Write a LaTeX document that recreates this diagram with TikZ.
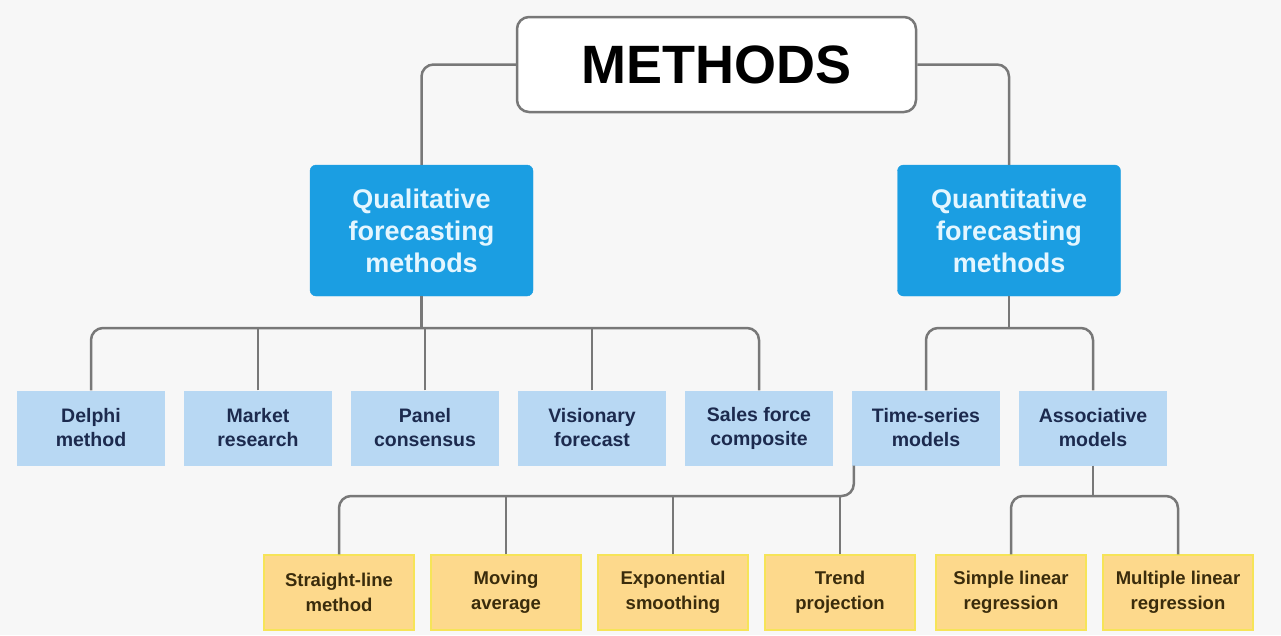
\documentclass[tikz,border=0pt]{standalone}
\usepackage{fontspec}
\setmainfont{Liberation Sans}
\usepackage{tikz}
\definecolor{paper}{RGB}{247,247,247}
\definecolor{linegray}{RGB}{120,120,120}
\definecolor{groupblue}{RGB}{27,158,226}
\definecolor{grouptext}{RGB}{228,246,255}
\definecolor{methodblue}{RGB}{184,216,243}
\definecolor{navy}{RGB}{28,42,78}
\definecolor{techyellow}{RGB}{253,217,140}
\definecolor{techedge}{RGB}{246,228,88}
\definecolor{brown}{RGB}{58,44,12}
\tikzstyle{title} = [rectangle, rounded corners=12pt, minimum width=399pt, minimum height=95pt, text centered, draw=linegray, line width=2.5pt, fill=white, font=\fontsize{54}{60}\selectfont\bfseries]
\tikzstyle{group} = [rectangle, rounded corners=6pt, minimum width=223pt, minimum height=131pt, align=center, draw=groupblue, fill=groupblue, text=grouptext, font=\fontsize{27}{32}\selectfont\bfseries]
\tikzstyle{method} = [rectangle, minimum width=148pt, minimum height=75pt, align=center, fill=methodblue, text=navy, font=\fontsize{19.5}{24}\selectfont\bfseries]
\tikzstyle{technique} = [rectangle, minimum width=150pt, minimum height=75pt, align=center, draw=techedge, line width=1.5pt, fill=techyellow, text=brown, font=\fontsize{18.5}{25}\selectfont\bfseries]
\tikzstyle{conn} = [draw=linegray, line width=2.5pt, rounded corners=12pt]

\begin{document}
\begin{tikzpicture}[x=1pt, y=-1pt, node distance=167pt]
	\fill [paper] (0,0) rectangle (1281,635);
	\useasboundingbox (0,0) rectangle (1281,635);

	\node (methods) [title] at (716.5,64.5) {METHODS};
	\node (qual) [group] at (421.5,230.5) {Qualitative\\forecasting\\methods};
	\node (quant) [group] at (1009,230.5) {Quantitative\\forecasting\\methods};

	\node (delphi) [method] at (91,428) {Delphi\\method};
	\node (market) [method, right of=delphi] {Market\\research};
	\node (panel) [method, right of=market] {Panel\\consensus};
	\node (visionary) [method, right of=panel] {Visionary\\forecast};
	\node (sales) [method, right of=visionary] {Sales force\\composite};
	\node (timeser) [method, right of=sales] {Time-series\\models};
	\node (assoc) [method, right of=timeser] {Associative\\models};

	\node (straight) [technique] at (339,592.5) {Straight-line\\method};
	\node (moving) [technique, right of=straight] {Moving\\average};
	\node (expo) [technique, right of=moving] {Exponential\\smoothing};
	\node (trend) [technique, right of=expo] {Trend\\projection};
	\node (simple) [technique, right of=trend, xshift=4pt] {Simple linear\\regression};
	\node (multiple) [technique, right of=simple] {Multiple linear\\regression};

	\coordinate (qualbar) at (0,328);
	\coordinate (techbar) at (0,496);
	\coordinate (tsfoot) at ([xshift=2pt]timeser.south west);

	\draw [conn] (methods.west) -| (qual.north);
	\draw [conn] (methods.east) -| (quant.north);

	\draw [conn] (qual.south) -- (qual.south |- qualbar);
	\draw [conn] (delphi.north) |- (qualbar -| sales.north) -- (sales.north);
	\foreach \n in {market, panel, visionary}
		\draw [conn] (\n.north) -- (\n.north |- qualbar);

	\draw [conn] (quant.south) -- (quant.south |- qualbar);
	\draw [conn] (timeser.north) |- (qualbar -| assoc.north) -- (assoc.north);

	\draw [conn] (tsfoot) |- (techbar -| straight.north) -- (straight.north);
	\foreach \n in {moving, expo, trend}
		\draw [conn] (\n.north) -- (\n.north |- techbar);

	\draw [conn] (assoc.south) -- (assoc.south |- techbar);
	\draw [conn] (simple.north) |- (techbar -| multiple.north) -- (multiple.north);
\end{tikzpicture}
\end{document}
